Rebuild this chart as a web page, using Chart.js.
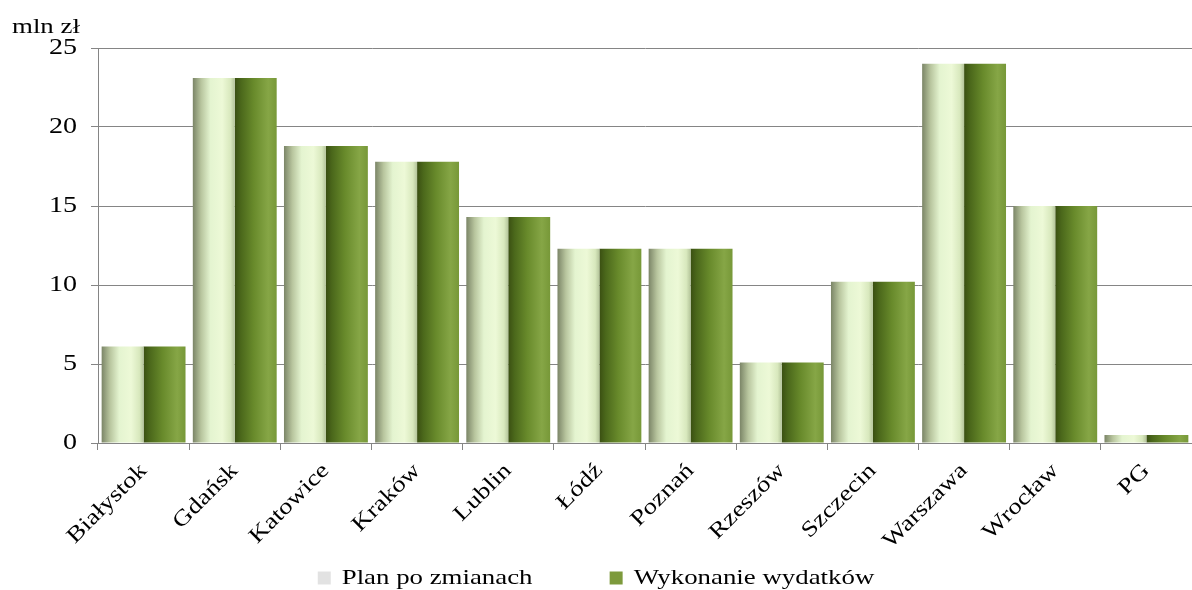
<!DOCTYPE html>
<html>
<head>
<meta charset="utf-8">
<script src="https://cdn.jsdelivr.net/npm/chart.js@4/dist/chart.umd.min.js"></script>
<style>
  html, body { margin: 0; padding: 0; background: #fff; }
  #wrap { width: 1192px; height: 590px; position: relative; }
</style>
</head>
<body>
<div id="wrap"><canvas id="chart"></canvas></div>
<script>
const miasta = ['Białystok', 'Gdańsk', 'Katowice', 'Kraków', 'Lublin', 'Łódź', 'Poznań', 'Rzeszów', 'Szczecin', 'Warszawa', 'Wrocław', 'PG'];
const planPoZmianach = [6.1, 23.1, 18.8, 17.8, 14.3, 12.3, 12.3, 5.1, 10.2, 24.0, 15.0, 0.5];
const wykonanie      = [6.1, 23.1, 18.8, 17.8, 14.3, 12.3, 12.3, 5.1, 10.2, 24.0, 15.0, 0.5];
const yTicks = [0, 5, 10, 15, 20, 25];

const catPct = 0.92;
const serif = "'Liberation Serif', 'Times New Roman', serif";
const gridC = '#858585';

// the original image is a bit wider than tall, text looks stretched sideways
const STRETCH = 1.22;
const canvas = document.getElementById('chart');
const c2d = canvas.getContext('2d');
const origFill = c2d.fillText.bind(c2d);
const origMeasure = c2d.measureText.bind(c2d);
c2d.fillText = function (t, x, y, maxW) {
  this.save();
  this.translate(x, y);
  this.scale(STRETCH, 1);
  if (maxW === undefined) origFill(t, 0, 0);
  else origFill(t, 0, 0, maxW / STRETCH);
  this.restore();
};
c2d.measureText = function (t) {
  const m = origMeasure(t);
  return {
    width: m.width * STRETCH,
    actualBoundingBoxAscent: m.actualBoundingBoxAscent,
    actualBoundingBoxDescent: m.actualBoundingBoxDescent,
    actualBoundingBoxLeft: m.actualBoundingBoxLeft * STRETCH,
    actualBoundingBoxRight: m.actualBoundingBoxRight * STRETCH
  };
};

// cylinder-like horizontal shading
const planStops  = [[0, '#7b8567'], [0.2, '#b8c59e'], [0.42, '#e4f4d0'], [0.7, '#edf9d7'], [0.9, '#d8e8bd'], [1, '#b4c49a']];
const wykonStops = [[0, '#3a4f12'], [0.15, '#4b681b'], [0.45, '#688a2b'], [0.8, '#86a646'], [1, '#779838']];

function cylinder(ctx, stops, side) {
  const chart = ctx.chart;
  const xs = chart.scales.x;
  if (ctx.type !== 'data' || !xs) return stops[2][1];
  const catW = xs.width / miasta.length;
  const w = catW * catPct / 2;
  const cx = xs.getPixelForValue(ctx.dataIndex);
  const left = side === 0 ? cx - w : cx;
  const g = chart.ctx.createLinearGradient(left, 0, left + w, 0);
  stops.forEach(([o, c]) => g.addColorStop(o, c));
  return g;
}

const unitLabel = {
  id: 'unitLabel',
  afterLayout(chart) {
    // push legend down a bit, closer to the bottom edge
    if (chart.legend) { chart.legend.top += 9; chart.legend.bottom += 9; }
  },
  afterDraw(chart) {
    const c = chart.ctx;
    c.save();
    c.font = '22px ' + serif;
    c.fillStyle = '#000';
    c.textAlign = 'left';
    c.textBaseline = 'alphabetic';
    c.fillText('mln zł', 12, 33);
    c.restore();
  }
};

new Chart(canvas, {
  type: 'bar',
  data: {
    labels: miasta,
    datasets: [
      { label: 'Plan po zmianach', data: planPoZmianach,
        backgroundColor: ctx => cylinder(ctx, planStops, 0),
        barPercentage: 1, categoryPercentage: catPct, borderWidth: 0 },
      { label: 'Wykonanie wydatków', data: wykonanie,
        backgroundColor: ctx => cylinder(ctx, wykonStops, 1),
        barPercentage: 1, categoryPercentage: catPct, borderWidth: 0 }
    ]
  },
  options: {
    responsive: true, maintainAspectRatio: false, animation: false,
    layout: { padding: { top: 48, right: 0, bottom: 0, left: 0 } },
    plugins: {
      tooltip: { enabled: false },
      legend: {
        position: 'bottom',
        labels: {
          color: '#000', font: { size: 22, family: serif },
          boxWidth: 13, boxHeight: 13, padding: 10,
          generateLabels: () => [
            { text: 'Plan po zmianach          ', fillStyle: '#e2e2e2', strokeStyle: '#e2e2e2', lineWidth: 0, datasetIndex: 0 },
            { text: 'Wykonanie wydatków', fillStyle: '#7d9a3c', strokeStyle: '#7d9a3c', lineWidth: 0, datasetIndex: 1 }
          ]
        }
      }
    },
    scales: {
      x: {
        grid: { display: true, drawOnChartArea: false, drawTicks: true, tickLength: 7, color: gridC, offset: true },
        border: { display: true, color: gridC },
        ticks: { color: '#000', font: { size: 22, family: serif }, minRotation: 45, maxRotation: 45, autoSkip: false, padding: 8 },
        afterFit: s => { s.height = 105; }
      },
      y: {
        min: 0, max: 25,
        afterBuildTicks: s => { s.ticks = yTicks.map(v => ({ value: v })); },
        grid: { color: gridC, tickLength: 7, lineWidth: 1 },
        border: { display: true, color: gridC },
        ticks: { color: '#000', font: { size: 23, family: serif }, padding: 14 },
        afterFit: s => { s.width = 98; }
      }
    }
  },
  plugins: [unitLabel]
});
</script>
</body>
</html>
